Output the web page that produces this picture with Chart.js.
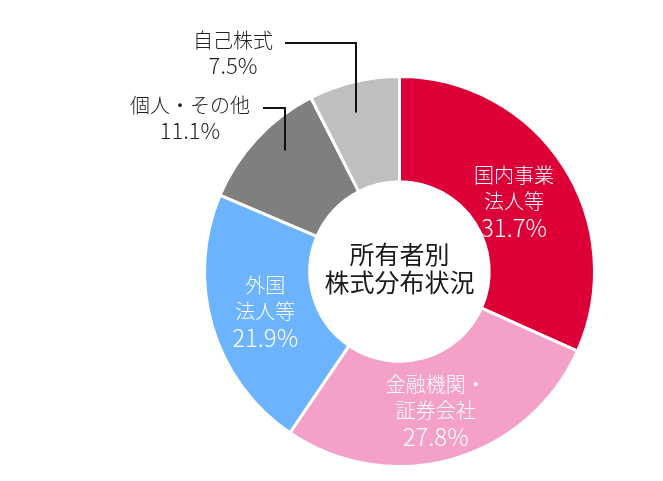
<!DOCTYPE html>
<html lang="ja">
<head>
<meta charset="utf-8">
<title>所有者別株式分布状況</title>
<script src="https://cdn.jsdelivr.net/npm/chart.js@4/dist/chart.umd.min.js"></script>
<style>
  html, body { margin: 0; padding: 0; background: #fff; }
  #wrap { width: 663px; height: 481px; position: relative; }
</style>
</head>
<body>
<div id="wrap"><canvas id="donut"></canvas></div>
<script>
const categories = [
  ['国内事業', '法人等'],
  ['金融機関・', '証券会社'],
  ['外国', '法人等'],
  ['個人・その他'],
  ['自己株式']
];
const shares = [31.7, 27.8, 21.9, 11.1, 7.5];
const colors = ['#dc0036', '#f3a1c9', '#6cb4ff', '#7f7f7f', '#bfbfbf'];
const centerTitle = ['所有者別', '株式分布状況'];

const FONT = '"Noto Sans CJK JP", "Noto Sans", sans-serif';

// where each label goes: inside the ring, or outside with a leader line
// (outside: text centre, line start x, line corner as offset from the pie centre)
const labelLayout = [
  { inside: true, dx: -3, dy: 6 },
  { inside: true, dx: -2, dy: 4 },
  { inside: true, dx: 0, dy: 0 },
  { inside: false, tx: 190, ty: 105, lineX: 263, cornerDx: -115, endDy: -121 },
  { inside: false, tx: 233, ty: 40, lineX: 285, cornerDx: -44, endDy: -159 }
];

const sliceLabels = {
  id: 'sliceLabels',
  afterDatasetsDraw(chart) {
    const ctx = chart.ctx;
    const arcs = chart.getDatasetMeta(0).data;
    ctx.save();
    ctx.textAlign = 'center';
    ctx.textBaseline = 'middle';

    arcs.forEach((arc, i) => {
      const p = arc.getProps(['x', 'y', 'startAngle', 'endAngle', 'outerRadius'], true);
      const mid = (p.startAngle + p.endAngle) / 2;
      const lay = labelLayout[i];
      const pct = shares[i].toFixed(1) + '%';

      if (lay.inside) {
        const r = 140;
        const cx = p.x + Math.cos(mid) * r + lay.dx;
        const cy = p.y + Math.sin(mid) * r + lay.dy;
        const lines = categories[i];
        const top = cy - 26 * (lines.length + 1 - 1) / 2 - 13 * (lines.length - 2);
        ctx.fillStyle = '#fff';
        ctx.font = '300 20px ' + FONT;
        lines.forEach((t, k) => ctx.fillText(t, cx, top + 26 * k));
        ctx.font = '300 24px ' + FONT;
        ctx.fillText(pct, cx, top + 26 * lines.length + 1);
      } else {
        ctx.fillStyle = '#222';
        ctx.font = '300 20px ' + FONT;
        ctx.fillText(categories[i][0], lay.tx, lay.ty);
        ctx.font = '300 22px ' + FONT;
        ctx.fillText(pct, lay.tx, lay.ty + 26);

        // leader line: from text, across, then down into the slice
        const x = Math.round(p.x + lay.cornerDx);
        ctx.strokeStyle = '#111';
        ctx.lineWidth = 2;
        ctx.beginPath();
        ctx.moveTo(lay.lineX, lay.ty + 3);
        ctx.lineTo(x, lay.ty + 3);
        ctx.lineTo(x, p.y + lay.endDy);
        ctx.stroke();
      }
    });

    // title in the hole
    const c = arcs[0];
    ctx.fillStyle = '#1a1a1a';
    ctx.font = '400 25px ' + FONT;
    ctx.fillText(centerTitle[0], c.x, c.y - 17);
    ctx.fillText(centerTitle[1], c.x, c.y + 11);
    ctx.restore();
  }
};

const ctx = document.getElementById('donut').getContext('2d');

new Chart(ctx, {
  type: 'doughnut',
  data: {
    labels: categories.map(c => c.join('')),
    datasets: [{
      data: shares,
      backgroundColor: colors,
      borderColor: '#fff',
      borderWidth: 3
    }]
  },
  options: {
    responsive: true,
    maintainAspectRatio: false,
    animation: false,
    cutout: '46%',
    layout: { padding: { left: 203, right: 67, top: 75, bottom: 13 } },
    plugins: {
      legend: { display: false },
      tooltip: { enabled: false }
    }
  },
  plugins: [sliceLabels]
});
</script>
</body>
</html>
